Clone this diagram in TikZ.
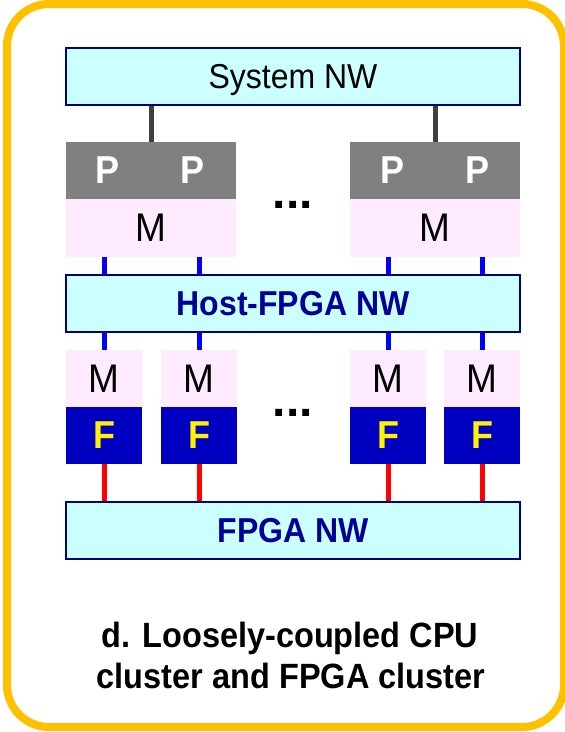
\documentclass[tikz,border=0pt]{standalone}
\usepackage{fontspec}
\setmainfont{Liberation Sans}
\definecolor{frameor}{HTML}{FFC000}
\definecolor{nwfill}{HTML}{CCFFFF}
\definecolor{nwline}{HTML}{000080}
\definecolor{nwtext}{HTML}{000099}
\definecolor{pgray}{HTML}{808080}
\definecolor{mpink}{HTML}{FFEBFF}
\definecolor{fblue}{HTML}{0000C0}
\definecolor{cgray}{HTML}{404040}
\newcommand{\vst}[1]{\scalebox{1}[1.08]{#1}}
\tikzset{
  nwbox/.style={draw=nwline, line width=2pt, fill=nwfill, minimum width=454pt, minimum height=57pt, inner sep=0pt, text depth=0pt},
  pbox/.style={fill=pgray, minimum width=170pt, minimum height=57pt, inner sep=0pt},
  mtop/.style={fill=mpink, minimum width=170pt, minimum height=58pt, inner sep=0pt},
  mbox/.style={fill=mpink, minimum width=76pt, minimum height=57pt, inner sep=0pt},
  fbox/.style={fill=fblue, minimum width=76pt, minimum height=57pt, inner sep=0pt},
  bigtext/.style={font=\fontsize{32}{38}\selectfont},
  nwbold/.style={font=\fontsize{32}{38}\selectfont\bfseries, text=nwtext},
  pletter/.style={font=\fontsize{36}{40}\selectfont\bfseries, text=white, inner sep=0pt},
  mletter/.style={font=\fontsize{37}{40}\selectfont, text=black},
  fletter/.style={font=\fontsize{36}{40}\selectfont\bfseries, text=yellow},
  dots/.style={font=\fontsize{48}{50}\selectfont\bfseries, inner sep=0pt},
  titletext/.style={font=\fontsize{32.5}{40}\selectfont\bfseries, inner sep=0pt},
  grayline/.style={draw=cgray, line width=5pt},
  blueline/.style={draw=blue, line width=5pt},
  redline/.style={draw=red, line width=5pt}
}
\begin{document}
\begin{tikzpicture}[x=1pt,y=-1pt]
\useasboundingbox (0,0) rectangle (565,732);
\draw[frameor, line width=8pt, rounded corners=42pt] (7,4) rectangle (564,727);

% networks
\node[nwbox, bigtext] (sys) at (293,76.5) {\vst{System NW}};
\node[nwbox, nwbold] (host) at (293,303) {\vst{Host-FPGA NW}};
\node[nwbox, nwbold] (fnw) at (293,530) {\vst{FPGA NW}};

% CPU nodes
\node[pbox] (pl) at (151,170.5) {};
\node[pbox] (pr) at (435,170.5) {};
\node[mtop, mletter] (ml) at (151,228) {\vst{M}};
\node[mtop, mletter] (mr) at (435,228) {\vst{M}};
\node[pletter] (p1) at (108,170.5) {\vst{P}};
\node[pletter] (p2) at (193,170.5) {\vst{P}};
\node[pletter] (p3) at (393,170.5) {\vst{P}};
\node[pletter] (p4) at (478,170.5) {\vst{P}};
\node[dots, anchor=base] (d1) at (293,208) {...};

% FPGA nodes
\node[mbox, mletter] (m1) at (104,378.5) {\vst{M}};
\node[mbox, mletter] (m2) at (199,378.5) {\vst{M}};
\node[mbox, mletter] (m3) at (388,378.5) {\vst{M}};
\node[mbox, mletter] (m4) at (482,378.5) {\vst{M}};
\node[fbox, fletter] (f1) at (104,435.5) {\vst{F}};
\node[fbox, fletter] (f2) at (199,435.5) {\vst{F}};
\node[fbox, fletter] (f3) at (388,435.5) {\vst{F}};
\node[fbox, fletter] (f4) at (482,435.5) {\vst{F}};
\node[dots, anchor=base] (d2) at (293,416) {...};

% connectors
\draw[grayline] (pl.north) -- (pl.north |- sys.south);
\draw[grayline] (pr.north) -- (pr.north |- sys.south);
\foreach \m/\t in {m1/ml, m2/ml, m3/mr, m4/mr}{
  \draw[blueline] (\m.north |- \t.south) -- (\m.north |- host.north);
  \draw[blueline] (\m.north) -- (\m.north |- host.south);
}
\foreach \f in {f1,f2,f3,f4}{
  \draw[redline] (\f.south) -- (\f.south |- fnw.north);
}

% caption
\node[titletext, anchor=base] (t1) at (290,647) {\vst{d. Loosely-coupled CPU}};
\node[titletext, anchor=base] (t2) at (291,688) {\vst{cluster and FPGA cluster}};
\end{tikzpicture}
\end{document}
